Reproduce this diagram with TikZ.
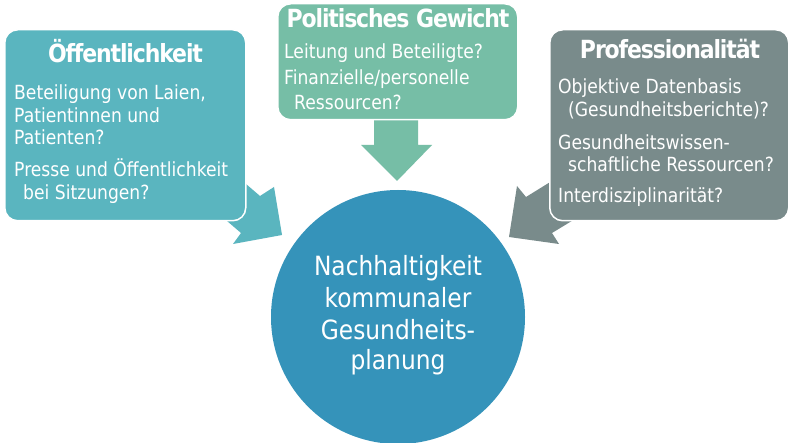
\documentclass[tikz,border=0pt]{standalone}
\usepackage{fontspec}
\setmainfont{DejaVu Sans}[FakeStretch=0.88]
\newfontfamily\titlefont{DejaVu Sans}[FakeStretch=0.88,LetterSpace=-4.5]
\definecolor{cleft}{HTML}{5AB5BF}
\definecolor{ctop}{HTML}{76BEA6}
\definecolor{cright}{HTML}{798B8B}
\definecolor{ccirc}{HTML}{3593BA}
\begin{document}
\begin{tikzpicture}[x=1pt,y=-1pt,
  box/.style={draw=white,line width=1.5pt,rounded corners=13pt},
  ttl/.style={anchor=base,text=white,inner sep=0pt,font=\titlefont\bfseries\fontsize{25}{28}\selectfont},
  txt/.style={anchor=base west,text=white,inner sep=0pt,font=\fontsize{19.5}{23}\selectfont},
  ctxt/.style={anchor=base,text=white,inner sep=0pt,font=\fontsize{26.5}{32}\selectfont}]
\useasboundingbox (0,0) rectangle (790,443);
\fill[white] (0,0) rectangle (790,443);
% arrows
\fill[cleft] (218,160) -- (246,184) -- (260,196) -- (274,187) -- (282,235) -- (233,244) -- (241,233) -- (213,209) -- cycle;
\fill[cright] (575,167) -- (547,184) -- (526,197) -- (517,186) -- (509,237) -- (559,244) -- (552,233) -- (580,216) -- cycle;
\fill[ctop] (374,110) -- (374,145) -- (361,145) -- (397,181) -- (432,145) -- (418,145) -- (418,110) -- cycle;
% circle
\node[circle,fill=ccirc,minimum size=254pt,inner sep=0pt] (c) at (398,317) {};
% boxes
\node[box,fill=cleft,minimum width=241pt,minimum height=191pt,anchor=north west] (bl) at (4,29) {};
\node[box,fill=ctop,minimum width=240pt,minimum height=116pt,anchor=north west] (bt) at (277,3) {};
\node[box,fill=cright,minimum width=239pt,minimum height=191pt,anchor=north west] (br) at (549,29) {};
% left text
\node[ttl] (tl) at (125.5,63) {Öffentlichkeit};
\node[txt] (l1) at (14,100) {Beteiligung von Laien,};
\node[txt] (l2) at (14,122.5) {Patientinnen und};
\node[txt] (l3) at (14,145) {Patienten?};
\node[txt] (l4) at (14,177) {Presse und Öffentlichkeit};
\node[txt] (l5) at (23,200) {bei Sitzungen?};
% top text
\node[ttl] (tt) at (398,28) {Politisches Gewicht};
\node[txt] (t1) at (284,59) {Leitung und Beteiligte?};
\node[txt] (t2) at (284,85) {Finanzielle/personelle};
\node[txt] (t3) at (294,110) {Ressourcen?};
% right text
\node[ttl] (tr) at (670,59) {Professionalität};
\node[txt] (r1) at (558,94) {Objektive Datenbasis};
\node[txt] (r2) at (568,117) {(Gesundheitsberichte)?};
\node[txt] (r3) at (558,150) {Gesundheitswissen-};
\node[txt] (r4) at (568,172) {schaftliche Ressourcen?};
\node[txt] (r5) at (558,203) {Interdisziplinarität?};
% circle text
\node[ctxt] (c1) at (398,276) {Nachhaltigkeit};
\node[ctxt] (c2) at (398,308) {kommunaler};
\node[ctxt] (c3) at (398,340) {Gesundheits-};
\node[ctxt] (c4) at (398,370) {planung};
\end{tikzpicture}
\end{document}
